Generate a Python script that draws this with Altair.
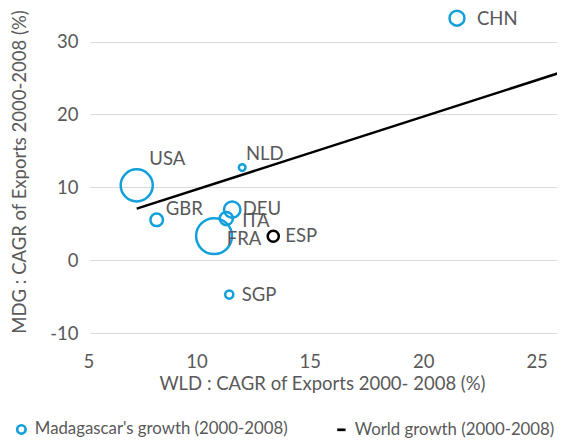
import altair as alt
import pandas as pd

# ---- data ----
countries = ["USA", "NLD", "GBR", "DEU", "ITA", "FRA", "ESP", "SGP", "CHN"]
wld_growth = [7.06, 11.71, 7.94, 11.27, 11.01, 10.47, 13.08, 11.14, 21.18]
mdg_growth = [10.26, 12.7, 5.53, 6.93, 5.7, 3.3, 3.27, -4.73, 33.2]
bubble_area = [1029, 44, 158, 269, 172, 1288, 123, 66, 222]
series_names = ["Madagascar's growth (2000-2008)", "World growth (2000-2008)"]
world_line_x = [7.06, 26.0]
world_line_y = [7.06, 26.0]
x_ticks = [5, 10, 15, 20, 25]
y_ticks = [-10, 0, 10, 20, 30]

# ---- styles ----
BLUE = "#12A0DB"
TEXT = "#595959"
GRID = "#D9D9D9"
FONT = "Lato"
FS = 18.5
LEG_FS = 16.8
LABEL_OFFSETS = {
    "CHN": (20, 1), "USA": (12.6, -26), "NLD": (3.7, -14), "GBR": (9, -11.3),
    "DEU": (10.5, -1), "ITA": (16, 2.3), "FRA": (12.7, 3), "ESP": (12, 0), "SGP": (12.5, 0),
}

pts = pd.DataFrame({"country": countries, "wld": wld_growth, "mdg": mdg_growth,
                    "bubble": bubble_area, "series": series_names[0]})
line_df = pd.DataFrame({"wld": world_line_x, "mdg": world_line_y, "series": series_names[1]})

x_scale = alt.Scale(domain=[5, 25.59], nice=False, zero=False)
y_scale = alt.Scale(domain=[-10, 34.6], nice=False, zero=False)
color_scale = alt.Scale(domain=series_names, range=[BLUE, "#000000"])
shape_scale = alt.Scale(domain=series_names, range=["circle", "stroke"])

legend = alt.Legend(title=None, orient="none", direction="horizontal", legendX=-77, legendY=413,
                    labelFont=FONT, labelFontSize=LEG_FS, labelColor=TEXT, labelLimit=0, symbolSize=70,
                    symbolStrokeWidth=2.7, columnPadding=43, labelOffset=5)

x_axis = alt.Axis(values=x_ticks, grid=False, domain=False, ticks=False, labelFont=FONT,
                  labelFontSize=FS, labelColor=TEXT, labelPadding=19, labelOffset=-7,
                  title="WLD : CAGR of Exports 2000- 2008 (%)", titleFont=FONT, titleFontSize=FS,
                  titleFontWeight="normal", titleColor=TEXT, titleX=232, titleY=50,
                  titleBaseline="middle", titleAlign="center")
y_axis = alt.Axis(values=y_ticks, grid=True, gridColor=GRID, gridWidth=1, domain=False, ticks=False,
                  labelFont=FONT, labelFontSize=FS, labelColor=TEXT, labelPadding=12,
                  labelExpr="'' + datum.value",
                  title="MDG : CAGR of Exports 2000-2008 (%)", titleFont=FONT, titleFontSize=FS,
                  titleFontWeight="normal", titleColor=TEXT, titleAngle=270, titleX=-71,
                  titleY=163.5, titleBaseline="middle", titleAlign="center")

line = alt.Chart(line_df).mark_line(strokeWidth=2.5, clip=True).encode(
    x=alt.X("wld:Q", scale=x_scale, axis=x_axis),
    y=alt.Y("mdg:Q", scale=y_scale, axis=y_axis),
    color=alt.Color("series:N", scale=color_scale, legend=legend),
)

points = alt.Chart(pts).mark_point(filled=False, strokeWidth=2.5, opacity=1).encode(
    x=alt.X("wld:Q", scale=x_scale, axis=x_axis),
    y=alt.Y("mdg:Q", scale=y_scale, axis=y_axis),
    size=alt.Size("bubble:Q", scale=None),
    color=alt.condition("datum.country == 'ESP'", alt.value("#000000"),
                        alt.Color("series:N", scale=color_scale, legend=legend)),
    shape=alt.Shape("series:N", scale=shape_scale, legend=legend),
)

labels = []
for c, (dx, dy) in LABEL_OFFSETS.items():
    labels.append(
        alt.Chart(pts).transform_filter(alt.datum.country == c)
        .mark_text(align="left", baseline="middle", dx=dx, dy=dy, font=FONT, fontSize=FS, color=TEXT)
        .encode(x=alt.X("wld:Q", scale=x_scale), y=alt.Y("mdg:Q", scale=y_scale), text="country:N")
    )

chart = alt.layer(line, points, *labels).properties(
    width=467, height=325,
    autosize=alt.AutoSizeParams(type="none"),
    padding={"left": 82, "top": 0, "right": 0, "bottom": 106},
).configure_view(stroke=None)

chart.save("out.html", embed_options={"renderer": "svg", "actions": False})
